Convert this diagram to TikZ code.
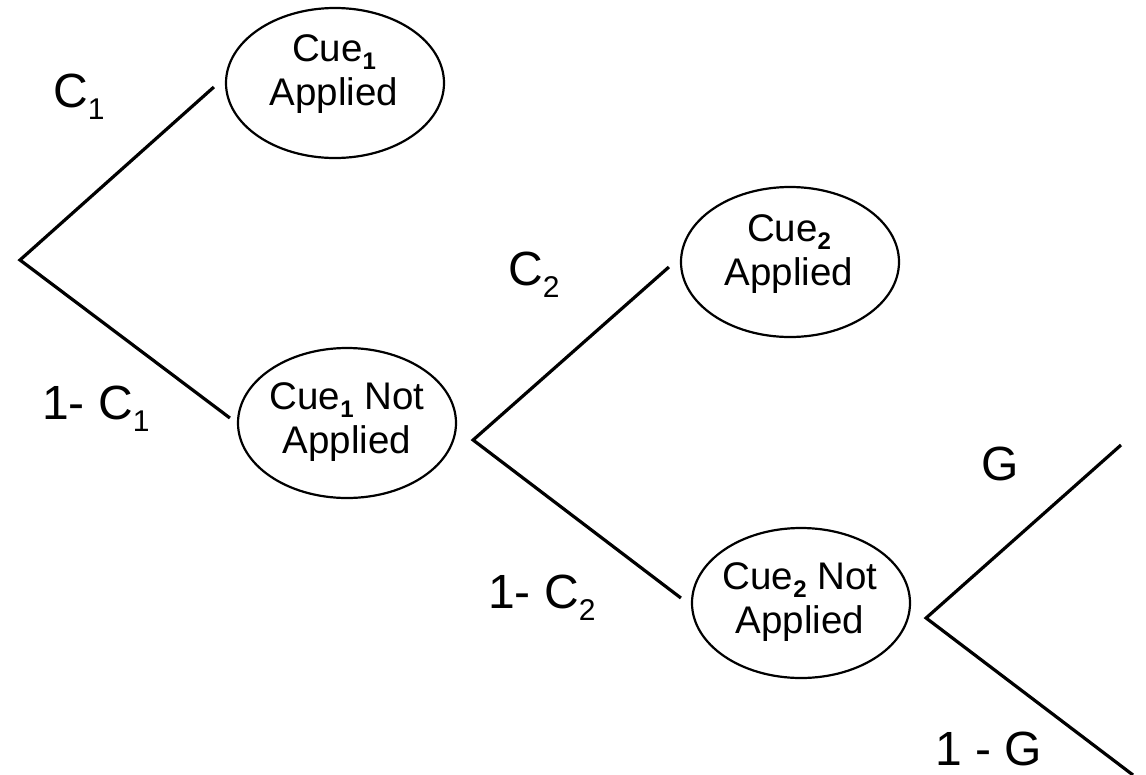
\documentclass[tikz,border=0pt]{standalone}
\usepackage{fontspec}
\setmainfont{Liberation Sans}
\usetikzlibrary{shapes.geometric,calc}
\newcommand\cuesub[1]{\raisebox{-8pt}{\fontsize{24}{24}\selectfont\bfseries #1}}
\newcommand\lblsub[1]{\raisebox{-12pt}{\fontsize{30}{30}\selectfont #1}}
\tikzset{
  cue/.style={draw, ellipse, line width=2.2pt, inner sep=0pt,
    minimum width=218pt, minimum height=150pt},
  cuetext/.style={align=center, inner sep=0pt,
    font=\fontsize{38.5}{44}\selectfont},
  branch/.style={line width=3.2pt},
  prob/.style={anchor=base west, inner sep=0pt,
    font=\fontsize{48}{52}\selectfont}
}
\begin{document}
\begin{tikzpicture}[x=1pt,y=-1pt]
\useasboundingbox[fill=white] (0,0) rectangle (1146,774);
% ellipses
\node[cue] (a1) at (335,83) {};
\node[cue] (n1) at (347,423) {};
\node[cue] (a2) at (790,262) {};
\node[cue] (n2) at (801,603) {};
% ellipse texts
\node[cuetext] (a1t) at (334,74) {Cue\cuesub{1}\\Applied};
\node[cuetext] (n1t) at (347,422) {Cue\cuesub{1} Not\\Applied};
\node[cuetext] (a2t) at (789,254) {Cue\cuesub{2}\\Applied};
\node[cuetext] (n2t) at (800,602) {Cue\cuesub{2} Not\\Applied};
% branch points
\coordinate (b1) at (20,260);
\coordinate (b2) at ($(n1.east)+(16,17)$);
\coordinate (b3) at ($(n2.east)+(15,15)$);
\coordinate (g1) at (1121,445);
\coordinate (g2) at (1133,775);
% connectors
\draw[branch] ($(a1.west)+(-11,4)$) -- (b1) -- ($(n1.west)+(-7,-5)$);
\draw[branch] ($(a2.west)+(-11,5)$) -- (b2) -- ($(n2.west)+(-10,-5)$);
\draw[branch] (g1) -- (b3) -- (g2);
% probability labels
\node[prob] (c1) at (53,107) {C\lblsub{1}};
\node[prob] (nc1) at (42,419) {1- C\lblsub{1}};
\node[prob] (c2) at (508,285) {C\lblsub{2}};
\node[prob] (nc2) at (488,608) {1- C\lblsub{2}};
\node[prob] (g) at (981,480) {G};
\node[prob] (ng) at (935,765) {1 - G};
\end{tikzpicture}
\end{document}
